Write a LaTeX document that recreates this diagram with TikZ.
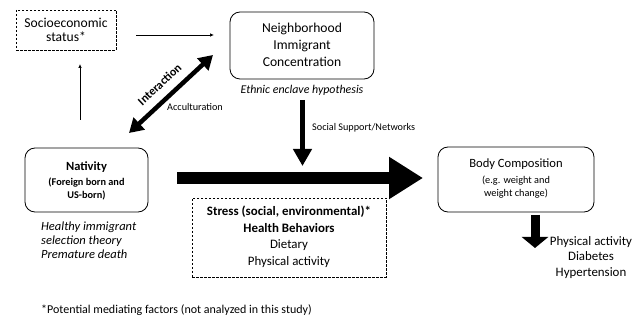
\documentclass[tikz,border=0pt]{standalone}
\usepackage{fontspec}
\setmainfont{Carlito}
\usetikzlibrary{arrows.meta}
\tikzset{
  rbox/.style={draw=black, line width=0.8pt, rounded corners=10pt, align=center, inner sep=0pt},
  dbox/.style={draw=black, line width=0.7pt, dash pattern=on 2.5pt off 1.5pt, align=center, inner sep=0pt},
  txt/.style={align=center, inner sep=0pt},
  thinarr/.style={line width=0.7pt, -{Latex[length=4pt,width=3.5pt]}},
}
\newcommand{\fsA}{\fontsize{13.6}{17}\selectfont}
\newcommand{\fsT}{\fontsize{10.3}{13}\selectfont}
\begin{document}
\begin{tikzpicture}[x=1pt,y=-1pt]
\useasboundingbox (0,0) rectangle (643,323);
% boxes
\node[dbox, minimum width=100pt, minimum height=40pt] (ses) at (66,30) {};
\node[txt, font=\fontsize{13.6}{14}\selectfont] (sest) at (66,29.5) {Socioeconomic\\status*};
\node[rbox, minimum width=144pt, minimum height=67pt] (nb) at (302,45.5) {};
\node[txt, font=\fsA] (nbt) at (302,45) {Neighborhood\\Immigrant\\Concentration};
\node[txt, font=\fontsize{11.9}{14}\selectfont\itshape] (eh) at (302,90) {Ethnic enclave hypothesis};
\node[rbox, minimum width=123pt, minimum height=64pt] (nat) at (86.5,180) {};
\node[txt, font=\fsT\bfseries] (natt) at (86.5,181) {{\fontsize{12.5}{14}\selectfont Nativity}\\[2pt](Foreign born and\\US-born)};
\node[txt, align=left, anchor=west, font=\fontsize{12.5}{14.2}\selectfont\itshape] (hi) at (41,240.5) {Healthy immigrant\\selection theory\\Premature death};
\node[dbox, minimum width=194pt, minimum height=79pt] (hb) at (289,237.5) {};
\node[txt, font=\fontsize{12.9}{16.5}\selectfont] (hbt) at (289,237) {\textbf{Stress (social, environmental)*}\\\textbf{Health Behaviors}\\Dietary\\Physical activity};
\node[rbox, minimum width=156pt, minimum height=65pt] (bc) at (516,179.5) {};
\node[txt, font=\fsT] (bct) at (516,178.5) {{\fontsize{12.6}{14}\selectfont Body Composition}\\[3pt](e.g. weight and\\weight change)};
\node[txt, font=\fontsize{12.9}{15.5}\selectfont] (out) at (591,257.5) {Physical activity\\Diabetes\\Hypertension};
\node[txt, anchor=west, font=\fontsize{12}{14}\selectfont] (fn) at (41,310) {*Potential mediating factors (not analyzed in this study)};
% coordinates
\coordinate (a1s) at (136,35);
\coordinate (a1e) at (214,35);
\coordinate (a2s) at (80,120);
\coordinate (a2e) at (80,64);
\coordinate (d1) at (129,133);
\coordinate (d2) at (213,55);
\coordinate (v1s) at (302.5,100);
\coordinate (v1e) at (302.5,166);
\coordinate (bs) at (177,178);
\coordinate (be) at (423,178);
\coordinate (ds) at (535,215);
\coordinate (de) at (535,248);
% arrows
\draw[thinarr] (a1s) -- (a1e);
\draw[thinarr] (a2s) -- (a2e);
\draw[line width=4.5pt, {Triangle[length=14pt,width=16pt]}-{Triangle[length=14pt,width=16pt]}] (d1) -- (d2);
\node[txt, rotate=43, font=\fontsize{12}{14}\selectfont\bfseries] (ia) at (159.5,84.5) {Interaction};
\node[txt, font=\fontsize{10.2}{13}\selectfont] (acc) at (195,107) {Acculturation};
\draw[line width=5pt, -{Triangle[length=17pt,width=18pt]}] (v1s) -- (v1e);
\node[txt, anchor=west, font=\fontsize{10.2}{13}\selectfont] (ss) at (312,128) {Social Support/Networks};
\draw[line width=12pt, -{Triangle[length=34pt,width=40pt]}] (bs) -- (be);
\draw[line width=9pt, -{Triangle[length=11pt,width=26pt]}] (ds) -- (de);
\end{tikzpicture}
\end{document}
